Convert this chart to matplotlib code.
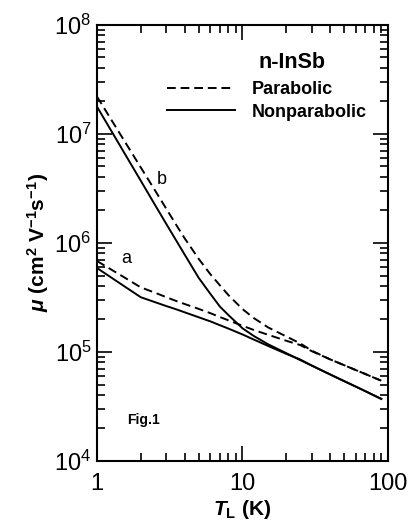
import matplotlib
matplotlib.use("Agg")
import matplotlib.pyplot as plt
from matplotlib.ticker import FuncFormatter, NullFormatter

plt.rcParams['font.family'] = ['Liberation Sans', 'DejaVu Sans']
plt.rcParams['mathtext.fontset'] = 'custom'
plt.rcParams['mathtext.rm'] = 'Liberation Sans'
plt.rcParams['mathtext.it'] = 'Liberation Sans:italic'
plt.rcParams['mathtext.bf'] = 'Liberation Sans:bold'
plt.rcParams['mathtext.bfit'] = 'Liberation Sans:italic:bold'

# lattice temperature (K)
T_L = [1, 1.5, 2, 2.5, 3, 3.5, 4, 5, 6, 7, 8, 10, 12, 15, 20, 25, 30, 40, 50, 60, 70, 80, 90]

# mobility (cm^2 V^-1 s^-1)
mu_par_a = [6.79e5, 4.91e5, 3.89e5, 3.48e5, 3.16e5, 2.92e5, 2.74e5, 2.47e5, 2.26e5, 2.08e5,
            1.94e5, 1.73e5, 1.58e5, 1.43e5, 1.26e5, 1.15e5, 1.01e5, 8.51e4, 7.52e4, 6.79e4,
            6.24e4, 5.78e4, 5.42e4]
mu_nonpar_a = [5.86e5, 4.08e5, 3.16e5, 2.85e5, 2.62e5, 2.45e5, 2.30e5, 2.07e5, 1.90e5, 1.75e5,
               1.63e5, 1.44e5, 1.29e5, 1.13e5, 9.55e4, 8.47e4, 7.45e4, 6.19e4, 5.37e4, 4.79e4,
               4.34e4, 3.98e4, 3.69e4]
mu_par_b = [2.19e7, 9.12e6, 4.90e6, 3.03e6, 2.04e6, 1.46e6, 1.10e6, 7.11e5, 5.16e5, 4.06e5,
            3.31e5, 2.46e5, 2.03e5, 1.67e5, 1.38e5, 1.19e5, 1.02e5, 8.51e4, 7.52e4, 6.79e4,
            6.24e4, 5.78e4, 5.42e4]
mu_nonpar_b = [1.77e7, 7.08e6, 3.70e6, 2.23e6, 1.48e6, 1.05e6, 7.80e5, 4.76e5, 3.41e5, 2.59e5,
               2.17e5, 1.64e5, 1.39e5, 1.17e5, 9.70e4, 8.36e4, 7.45e4, 6.19e4, 5.37e4, 4.79e4,
               4.34e4, 3.98e4, 3.69e4]

fig = plt.figure(figsize=(4.12, 5.26), dpi=100)
ax = fig.add_axes([0.2354, 0.1241, 0.7063, 0.829])

dash = (0, (4.5, 2.5))
lw = 1.4
l_par, = ax.plot(T_L, mu_par_a, color='k', lw=lw, linestyle=dash, label='Parabolic')
l_non, = ax.plot(T_L, mu_nonpar_a, color='k', lw=lw, label='Nonparabolic')
ax.plot(T_L, mu_par_b, color='k', lw=lw, linestyle=dash)
ax.plot(T_L, mu_nonpar_b, color='k', lw=lw)

ax.set_xscale('log')
ax.set_yscale('log')
ax.set_xlim(1, 100)
ax.set_ylim(1e4, 1e8)

ax.xaxis.set_major_formatter(FuncFormatter(lambda v, p: '%g' % v))
ax.xaxis.set_minor_formatter(NullFormatter())

ax.tick_params(which='both', direction='in', top=True, right=True, width=1.2)
ax.tick_params(which='major', length=11, labelsize=17)
ax.tick_params(which='minor', length=6)
ax.tick_params(axis='x', which='major', pad=9)
ax.tick_params(axis='y', which='major', pad=4)
for s in ax.spines.values():
    s.set_linewidth(1.5)

ax.set_xlabel(r'$\mathbfit{T}_{\mathbf{L}}$ (K)', fontsize=15, fontweight='bold', labelpad=2)
ax.set_ylabel(r'$\mathbfit{\mu}$ (cm$^{\mathbf{2}}$ V$^{\mathbf{-1}}$s$^{\mathbf{-1}}$)',
              fontsize=15, fontweight='bold', labelpad=2)

# curve labels
ax.text(1.6, 7.2e5, 'a', fontsize=13, ha='center', va='center')
ax.text(2.78, 3.76e6, 'b', fontsize=13, ha='center', va='center')

ax.text(0.67, 0.914, 'n-InSb', transform=ax.transAxes, fontsize=15.5,
        fontweight='bold', ha='center', va='center')
ax.legend(handles=[l_par, l_non], loc='center left', bbox_to_anchor=(0.24, 0.825),
          frameon=False, prop={'weight': 'bold', 'size': 13}, handlelength=3.8,
          handletextpad=0.9, labelspacing=0.3, borderpad=0, borderaxespad=0)

ax.text(0.103, 0.093, 'Fig.1', transform=ax.transAxes, fontsize=10,
        fontweight='bold', ha='left', va='center')

fig.savefig('out.png', dpi=100)
